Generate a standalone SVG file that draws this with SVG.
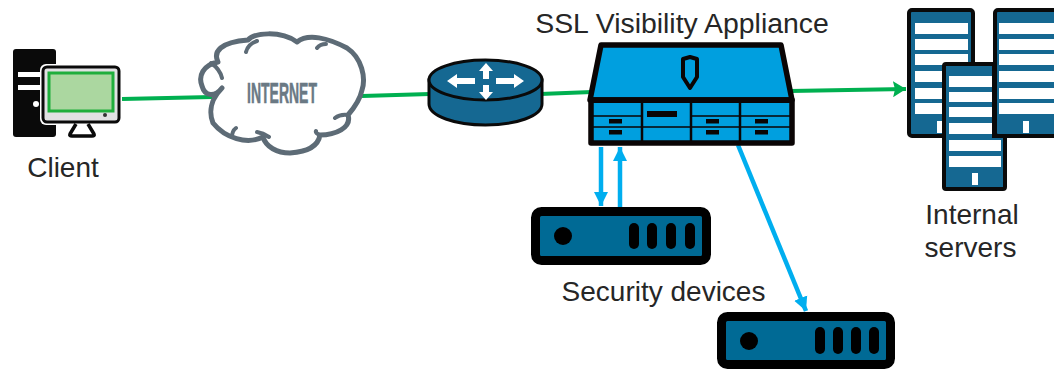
<svg xmlns="http://www.w3.org/2000/svg" width="1054" height="369" viewBox="0 0 1054 369">
<style>
.t{font-family:"Liberation Sans",Arial,sans-serif;font-size:28px;fill:#262626}
.g{fill:none;stroke:#00b050;stroke-width:4}
.b{fill:none;stroke:#00aeef;stroke-width:4.5}
.srv{fill:#156892;stroke:#0a0a0a;stroke-width:4}
.w{fill:#fff}
.dev{fill:#006a95;stroke:#000;stroke-width:9}
.pill{fill:#000}
.app{fill:#009fdf;stroke:#0a0505;stroke-width:5.5;stroke-linejoin:round}
.ln{stroke:#0a0505;stroke-width:1.6}
.ln2{stroke:#0a0505;stroke-width:2.5}
</style>
<defs>
<marker id="ag" markerUnits="userSpaceOnUse" markerWidth="14" markerHeight="16" refX="13" refY="8" orient="auto"><path d="M0 0L13 8L0 16L2 8Z" fill="#00b050"/></marker>
<marker id="ab" markerUnits="userSpaceOnUse" markerWidth="15" markerHeight="15" refX="14" refY="7.500" orient="auto"><path d="M0 0.500L14 7.500L0 14.500Z" fill="#00aeef"/></marker>
</defs>
<g id="connectors">
<path class="g" d="M122 99L212 97"/>
<path class="g" d="M362 96L430 94"/>
<path class="g" d="M540 94L592 92"/>
<path class="g" d="M790 91L906 89" marker-end="url(#ag)"/>
<path class="b" d="M601 147V206" marker-end="url(#ab)"/>
<path class="b" d="M620 207V147" marker-end="url(#ab)"/>
<path class="b" d="M738 145L806 311" marker-end="url(#ab)"/>
</g>
<g id="client">
<rect x="13" y="49" width="43" height="88" rx="3" fill="#0a0a0a"/>
<rect x="18" y="72" width="26" height="5" fill="#fff"/>
<rect x="18" y="85" width="24" height="5" fill="#fff"/>
<circle cx="36" cy="104" r="3" fill="#fff"/>
<rect x="40" y="64" width="82" height="61" rx="6" fill="#fff"/>
<rect x="43" y="67" width="76" height="55" rx="4" fill="#e1e1e3" stroke="#0a0a0a" stroke-width="3"/>
<rect x="49" y="73" width="64" height="38" fill="#abd7a0" stroke="#1fae3c" stroke-width="3"/>
<circle cx="105" cy="115" r="2" fill="#333"/>
<path d="M76 124L70 134Q69 136 72 136H92Q95 136 94 134L88 124" fill="#fff" stroke="#0a0a0a" stroke-width="3.500" stroke-linejoin="round"/>
<text class="t" x="63" y="177" text-anchor="middle">Client</text>
</g>
<g id="internet">
<path d="M222 88C215 97 205 97 202 86C198 76 203 65 218 62C213 52 220 42 248 40C254 33 280 30 297 42C308 33 328 38 347 48C362 58 366 78 362 90C360 100 354 108 348 115C352 128 335 135 320 135C318 147 305 152 290 153C277 153 266 147 263 137C247 145 225 138 213 123C209 113 210 100 222 88Z" fill="#fff" stroke="#5d6b76" stroke-width="5" stroke-linejoin="round" stroke-linecap="round"/>
<path d="M222 78C220 70 214 65 211 63M246 52Q248 44 257 41M317 48Q320 44 326 44M348 115Q340 114 335 118M320 135Q315 133 316 131M269 137Q263 133 257 132M232 137Q232 131 236 128" fill="none" stroke="#5d6b76" stroke-width="4" stroke-linecap="round"/>
<text x="282" y="103" text-anchor="middle" textLength="70" lengthAdjust="spacingAndGlyphs" font-family="'Liberation Sans',Arial,sans-serif" font-weight="700" font-size="29" fill="#6a7984" stroke="#6a7984" stroke-width="0.600">INTERNET</text>
</g>
<g id="router">
<path d="M429 80V104C429 116 455 125 485.500 125C516 125 542 116 542 104V80Z" fill="#156892" stroke="#0a0a0a" stroke-width="3"/>
<ellipse cx="485.500" cy="80" rx="56.500" ry="20" fill="#156892" stroke="#0a0a0a" stroke-width="3"/>
<path d="M486 63L493 71H489V79H483V71H479Z M486 100L493 92H489V85H483V92H479Z M447 81L457 74V78H475V84H457V88Z M524 81L514 74V78H496V84H514V88Z" fill="#fff"/>
</g>
<g id="appliance">
<text class="t" x="682" y="33" text-anchor="middle" style="font-size:28.400px">SSL Visibility Appliance</text>
<path class="app" d="M601 45H781L792 100H590Z"/>
<path d="M690 57L697 59V77L690 88L683 77V59Z" fill="#009fdf" stroke="#0a0505" stroke-width="4" stroke-linejoin="round"/>
<rect class="app" x="591" y="100" width="201" height="43"/>
<rect x="591" y="98" width="201" height="5" fill="#0a0505"/>
<path class="ln" d="M593 116H642M593 127H642M692 116H790M692 127H790M643 127H691"/>
<path class="ln2" d="M642 103V141M691 103V141M740 103V141"/>
<path d="M609 119H622V123.500H609ZM609 130H622V134.500H609ZM647 111H677V117H647ZM706 119H719V123.500H706ZM706 130H719V134.500H706ZM755 119H768V123.500H755ZM755 130H768V134.500H755Z" fill="#0a0505"/>
</g>
<g id="security-device-1">
<rect class="dev" x="535.500" y="211.500" width="171" height="49" rx="6"/>
<circle cx="563" cy="236" r="9" class="pill"/>
<rect class="pill" x="629" y="223" width="10" height="26" rx="5"/>
<rect class="pill" x="647" y="223" width="10" height="26" rx="5"/>
<rect class="pill" x="666" y="223" width="10" height="26" rx="5"/>
<rect class="pill" x="685" y="223" width="10" height="26" rx="5"/>
<text class="t" x="663.500" y="301" text-anchor="middle">Security devices</text>
</g>
<g id="security-device-2">
<rect class="dev" x="721.500" y="316.500" width="169" height="48" rx="6"/>
<circle cx="749" cy="341" r="9" class="pill"/>
<rect class="pill" x="815" y="327" width="10" height="27" rx="5"/>
<rect class="pill" x="833" y="327" width="10" height="27" rx="5"/>
<rect class="pill" x="851" y="327" width="10" height="27" rx="5"/>
<rect class="pill" x="869" y="327" width="10" height="27" rx="5"/>
</g>
<g id="server-left">
<rect class="srv" x="909" y="10" width="64" height="126" rx="3"/>
<path class="w" d="M915 23H968V34H915ZM915 39H968V50H915ZM915 54H968V65H915ZM915 71H968V82H915ZM915 88H968V99H915ZM915 103H968V114H915ZM937 121H943V133H937Z"/>
</g>
<g id="server-right">
<rect class="srv" x="995" y="10" width="64" height="126" rx="3"/>
<path class="w" d="M999 23H1054V34H999ZM999 39H1054V50H999ZM999 54H1054V65H999ZM999 71H1054V82H999ZM999 88H1054V99H999ZM999 103H1054V114H999ZM1023 121H1029V133H1023Z"/>
</g>
<g id="server-middle">
<path class="srv" d="M944 66Q944 64 946 64H994V136H1005V187Q1005 189 1003 189H946Q944 189 944 187Z"/>
<path class="w" d="M949 76H992V87H949ZM949 92H992V102H949ZM949 107H992V117H949ZM949 123H992V134H949ZM949 140H1001V151H949ZM949 156H1001V167H949ZM972 173H978V185H972Z"/>
<text class="t" x="972" y="224" text-anchor="middle">Internal</text>
<text class="t" x="970.500" y="257" text-anchor="middle">servers</text>
</g>
</svg>
